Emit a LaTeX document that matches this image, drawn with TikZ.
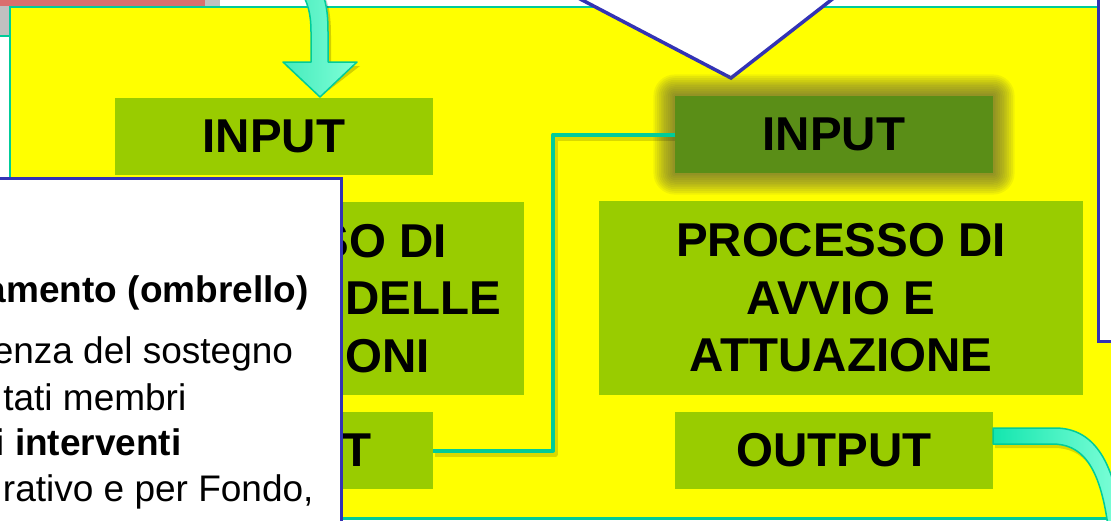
\documentclass[tikz,border=0pt]{standalone}
\usepackage{fontspec}
\setmainfont{Liberation Sans}
\definecolor{yel}{HTML}{FFFF00}
\definecolor{tealb}{HTML}{00CC99}
\definecolor{lgreen}{HTML}{99CC00}
\definecolor{dgreen}{HTML}{5A8E17}
\definecolor{blueb}{HTML}{3333B5}
\definecolor{redbar}{HTML}{DA6E6E}
\definecolor{greyb}{HTML}{C0C0C0}
\definecolor{glowc}{RGB}{100,100,60}
\definecolor{arrA}{HTML}{14E6AF}
\definecolor{arrB}{HTML}{80FFD8}
\definecolor{arrC}{HTML}{45EBBC}
\tikzset{
  gbox/.style={fill=lgreen, inner sep=0pt, align=center,
    font=\fontsize{47.5}{57.5}\selectfont\bfseries},
  smallbox/.style={gbox, minimum width=318pt, minimum height=77pt},
  bigbox/.style={gbox, minimum width=484pt, minimum height=193.5pt},
  txt/.style={inner sep=0pt, anchor=base east, font=\fontsize{37}{45}\selectfont},
  btxt/.style={txt, font=\fontsize{37}{45}\selectfont\bfseries},
  conn/.style={draw=tealb, line width=4pt, line join=round},
  bluebox/.style={draw=blueb, line width=3.5pt, fill=white},
  blockarrow/.style={draw=tealb, line width=1.5pt, line join=round},
}
\begin{document}
\begin{tikzpicture}[x=1pt,y=-1pt]
\useasboundingbox (0,0) rectangle (1111,520);
\clip (0,0) rectangle (1111,520);
\fill[white] (0,0) rectangle (1111,520);
% box behind, top left
\fill[greyb] (-10,-10) rectangle (220,36);
\draw[tealb, line width=2pt] (-10,36) -- (220,36);
\fill[redbar] (-10,-10) rectangle (205,6);
% yellow frame
\draw[tealb, line width=2.5pt, fill=yel] (10,7) rectangle (1140,518.5);
% right white box
\draw[bluebox] (1098.5,-10) rectangle (1140,341.5);
% white chevron
\draw[bluebox, miter limit=20] (563,-10) -- (731,78) -- (844,-10) -- cycle;
% glow of the highlighted input
\foreach \i in {1,...,12}{
  \pgfmathsetmacro\rr{1.8*\i}
  \fill[glowc, opacity=0.085, rounded corners=\rr pt]
    ({675-1.8*\i},{96-1.8*\i}) rectangle ({993+1.8*\i},{173+1.8*\i});
}
% boxes
\node[smallbox] (inL) at (274,136.5) {INPUT};
\node[bigbox] (procL) at (282,298.5) {PROCESSO DI\\SELEZIONE DELLE\\OPERAZIONI};
\node[smallbox] (outL) at (274,450.5) {OUTPUT};
\node[smallbox, fill=dgreen] (inR) at (834,134.5) {INPUT};
\node[bigbox] (procR) at (841,298) {PROCESSO DI\\AVVIO E\\ATTUAZIONE};
\node[smallbox] (outR) at (834,450.5) {OUTPUT};
% connector
\coordinate (bend) at (553,134.5);
\draw[black, opacity=0.15, line width=5pt, line join=round]
  ([shift={(2,4)}]outL.east) -| ([shift={(2,4)}]bend) -- ([shift={(0,4)}]inR.west);
\draw[conn] (outL.east) -| (bend) -- (inR.west);
% down arrow into left input
\coordinate (tipL) at (320,97);
\fill[black, opacity=0.18, shift={(3,4)}]
  (299,-12) .. controls (308,2) and (311,14) .. (311,32) -- (311,62) -- (283,62)
  -- (tipL) -- (357,62) -- (328,62) -- (328,32) .. controls (328,12) and (326,0) .. (320,-12) -- cycle;
\path[blockarrow, left color=arrC, right color=arrB]
  (299,-12) .. controls (308,2) and (311,14) .. (311,32) -- (311,62) -- (283,62)
  -- (tipL) -- (357,62) -- (328,62) -- (328,32) .. controls (328,12) and (326,0) .. (320,-12) -- cycle;
% output arrow leaving right output
\fill[black, opacity=0.15, shift={(2,4)}]
  (993,428) -- (1055,428) .. controls (1090,428) and (1115,455) .. (1122,530)
  -- (1108.5,530) .. controls (1100,462) and (1080,444) .. (1052,444) -- (993,444) -- cycle;
\path[blockarrow, left color=arrA, right color=arrB]
  (993,428) -- (1055,428) .. controls (1090,428) and (1115,455) .. (1122,530)
  -- (1108.5,530) .. controls (1100,462) and (1080,444) .. (1052,444) -- (993,444) -- cycle;
% left white box with text
\draw[bluebox] (-10,178.5) rectangle (341.5,540);
\node[btxt] (t1) at (308.8,302) {amento (ombrello)};
\node[txt] (t2) at (293.3,363) {enza del sostegno};
\node[txt] (t3) at (186.5,410) {tati membri};
\node[btxt] (t4) at (181.8,455) {i interventi};
\node[txt] (t5) at (313.7,501) {rativo e per Fondo,};
\end{tikzpicture}
\end{document}
